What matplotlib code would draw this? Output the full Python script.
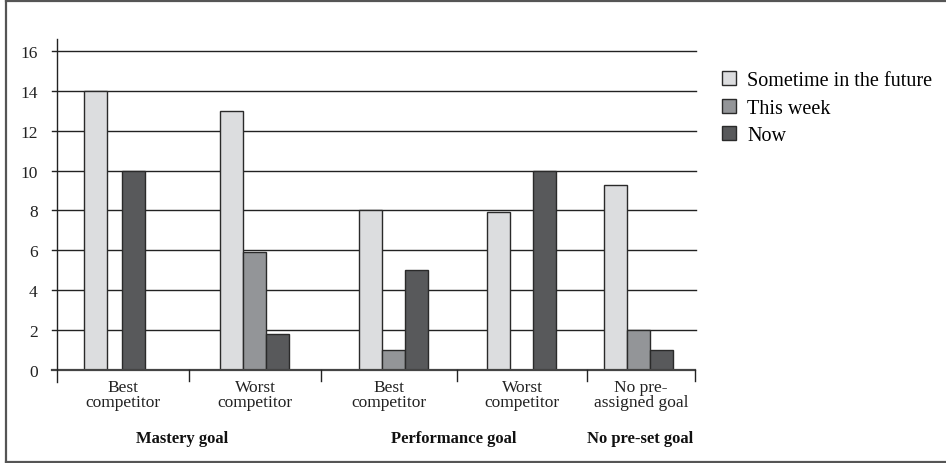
import matplotlib
matplotlib.use("Agg")
import matplotlib.pyplot as plt
from matplotlib.lines import Line2D

# Data
categories = ["Best\ncompetitor", "Worst\ncompetitor", "Best\ncompetitor",
              "Worst\ncompetitor", "No pre-\nassigned goal"]
groups = ["Mastery goal", "Performance goal", "No pre-set goal"]
series_names = ["Sometime in the future", "This week", "Now"]
sometime = [14, 13, 8, 7.9, 9.3]
this_week = [0, 5.9, 1, 0, 2]
now = [10, 1.8, 5, 10, 1]
y_ticks = [0, 2, 4, 6, 8, 10, 12, 14, 16]

# Layout (horizontal units are pixel-like so categories can have unequal widths)
edges = [0, 132, 264, 400, 530, 638]
group_centers = [57.5, 197, 336.5, 464.5, 581.5]
group_label_x = [125, 397, 583]
bar_w = 23
colors = ["#dcdddf", "#939598", "#58595b"]
edge_color = "#2a2a2a"
serif = ["Liberation Serif", "DejaVu Serif"]

W, H = 946, 464
fig = plt.figure(figsize=(W / 100, H / 100), dpi=100)
ax = fig.add_axes([57 / W, 1 - 371 / H, (695 - 57) / W, (371 - 40) / H])
ax.set_xlim(0, 638)
ax.set_ylim(0, 16.6)

# Horizontal grid lines with short outward stubs on the left
for yv in y_ticks[1:]:
    ax.plot([-5, 639], [yv, yv], color="#222222", lw=1.0, clip_on=False, zorder=1)
ax.plot([-5, 638], [0, 0], color="#444444", lw=1.6, clip_on=False, zorder=4)

# Bars (the first group has no "This week" bar, so its two bars sit closer)
series = [sometime, this_week, now]
offsets = [[-0.83, 0, 0.83], [-1, 0, 1], [-1, 0, 1], [-1, 0, 1], [-1, 0, 1]]
for k, (vals, col, name) in enumerate(zip(series, colors, series_names)):
    xs = [c + off[k] * bar_w for c, off in zip(group_centers, offsets)]
    ax.bar(xs, vals, width=bar_w, color=col, edgecolor=edge_color,
           linewidth=1.0, label=name, zorder=3)

# Vertical axis line and category separators below the baseline
ax.plot([0, 0], [-0.6, 16.6], color="#222222", lw=1.0, clip_on=False, zorder=5)
for e in edges[1:]:
    ax.plot([e, e], [0, -0.55], color="#222222", lw=1.0, clip_on=False, zorder=5)

for s in ax.spines.values():
    s.set_visible(False)
ax.set_xticks([])
ax.set_yticks(y_ticks)
ax.tick_params(axis="y", length=0, pad=14)
ax.set_yticklabels([str(v) for v in y_ticks], fontsize=12.5, family=serif,
                   color="#222222")

# Category labels
for i, lab in enumerate(categories):
    xc = (edges[i] + edges[i + 1]) / 2
    ax.text(xc, -0.45, lab, ha="center", va="top", fontsize=12.5, family=serif,
            color="#222222", linespacing=0.92)

# Group labels
for gx, g in zip(group_label_x, groups):
    ax.text(gx, -3.4, g, ha="center", va="center", fontsize=12,
            fontweight="bold", family=serif, color="#111111")

# Legend
leg = ax.legend(loc="upper left", bbox_to_anchor=(714 / W, 1 - 64 / H),
                bbox_transform=fig.transFigure, frameon=False,
                handlelength=0.7, handleheight=0.7, handletextpad=0.55,
                labelspacing=0.42, borderaxespad=0,
                prop={"family": serif, "size": 14.5})

# Outer frame (top, left and bottom edges)
frame_kw = dict(color="#555555", lw=1.6, transform=fig.transFigure)
fig.add_artist(Line2D([6 / W, 1], [1 - 1.5 / H, 1 - 1.5 / H], **frame_kw))
fig.add_artist(Line2D([6 / W, 6 / W], [1 - 1.5 / H, 1.5 / H], **frame_kw))
fig.add_artist(Line2D([6 / W, 1], [1.5 / H, 1.5 / H], **frame_kw))

fig.savefig("out.png", dpi=100)
